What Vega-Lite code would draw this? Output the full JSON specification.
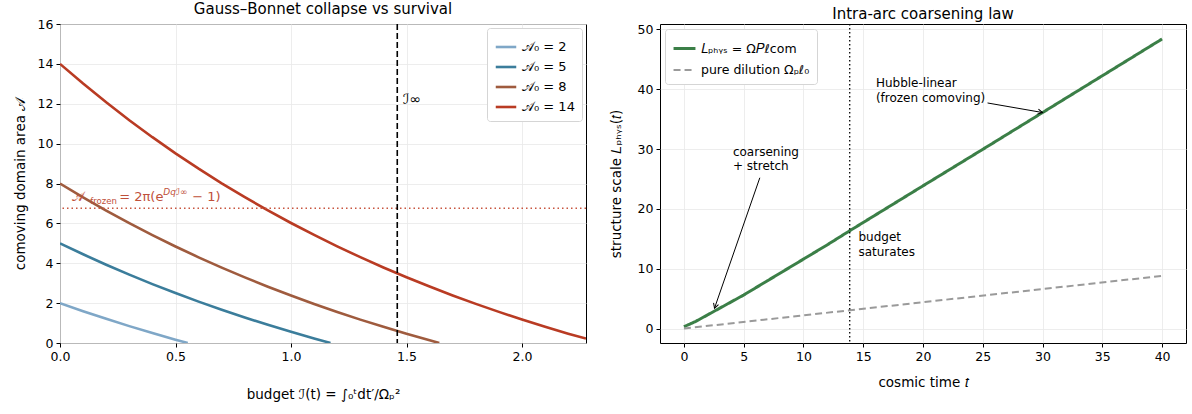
{
  "$schema": "https://vega.github.io/schema/vega-lite/v6.json",
  "background": "white",
  "padding": {"left": 12, "top": 1, "right": 4, "bottom": 5},
  "spacing": 20,
  "resolve": {
    "scale": {"color": "independent", "strokeDash": "independent", "strokeWidth": "independent", "x": "independent", "y": "independent"},
    "legend": {"color": "independent", "strokeDash": "independent"}
  },
  "config": {
    "font": "DejaVu Sans",
    "view": {"stroke": "#000000", "strokeWidth": 1},
    "axis": {
      "domain": false, "grid": true, "gridColor": "#e8e8e8", "gridWidth": 0.8,
      "tickColor": "#000000", "tickSize": 4, "labelFontSize": 12.5, "labelColor": "#000000",
      "titleFontSize": 13.5, "titleFontWeight": "normal", "titleColor": "#000000", "labelPadding": 3,
      "labelFlush": false, "labelOverlap": false
    },
    "title": {"fontSize": 15, "fontWeight": "normal", "offset": 1, "color": "#000000"},
    "legend": {"labelFontSize": 12.5, "labelColor": "#000000"}
  },
  "datasets": {
    "left": [
      {"I": 0.0, "A": 2.0, "s": "𝒜₀ = 2"}, {"I": 0.1, "A": 1.596, "s": "𝒜₀ = 2"}, {"I": 0.2, "A": 1.212, "s": "𝒜₀ = 2"},
      {"I": 0.3, "A": 0.846, "s": "𝒜₀ = 2"}, {"I": 0.4, "A": 0.499, "s": "𝒜₀ = 2"}, {"I": 0.5, "A": 0.168, "s": "𝒜₀ = 2"},
      {"I": 0.553, "A": 0.0, "s": "𝒜₀ = 2"},
      {"I": 0.0, "A": 5.0, "s": "𝒜₀ = 5"}, {"I": 0.1, "A": 4.45, "s": "𝒜₀ = 5"}, {"I": 0.2, "A": 3.926, "s": "𝒜₀ = 5"},
      {"I": 0.3, "A": 3.428, "s": "𝒜₀ = 5"}, {"I": 0.4, "A": 2.955, "s": "𝒜₀ = 5"}, {"I": 0.5, "A": 2.504, "s": "𝒜₀ = 5"},
      {"I": 0.6, "A": 2.076, "s": "𝒜₀ = 5"}, {"I": 0.7, "A": 1.668, "s": "𝒜₀ = 5"}, {"I": 0.8, "A": 1.28, "s": "𝒜₀ = 5"},
      {"I": 0.9, "A": 0.911, "s": "𝒜₀ = 5"}, {"I": 1.0, "A": 0.56, "s": "𝒜₀ = 5"}, {"I": 1.1, "A": 0.227, "s": "𝒜₀ = 5"},
      {"I": 1.171, "A": 0.0, "s": "𝒜₀ = 5"},
      {"I": 0.0, "A": 8.0, "s": "𝒜₀ = 8"}, {"I": 0.1, "A": 7.303, "s": "𝒜₀ = 8"}, {"I": 0.2, "A": 6.641, "s": "𝒜₀ = 8"},
      {"I": 0.3, "A": 6.01, "s": "𝒜₀ = 8"}, {"I": 0.4, "A": 5.411, "s": "𝒜₀ = 8"}, {"I": 0.5, "A": 4.841, "s": "𝒜₀ = 8"},
      {"I": 0.6, "A": 4.298, "s": "𝒜₀ = 8"}, {"I": 0.7, "A": 3.782, "s": "𝒜₀ = 8"}, {"I": 0.8, "A": 3.291, "s": "𝒜₀ = 8"},
      {"I": 0.9, "A": 2.824, "s": "𝒜₀ = 8"}, {"I": 1.0, "A": 2.38, "s": "𝒜₀ = 8"}, {"I": 1.1, "A": 1.958, "s": "𝒜₀ = 8"},
      {"I": 1.2, "A": 1.556, "s": "𝒜₀ = 8"}, {"I": 1.3, "A": 1.173, "s": "𝒜₀ = 8"}, {"I": 1.4, "A": 0.81, "s": "𝒜₀ = 8"},
      {"I": 1.5, "A": 0.464, "s": "𝒜₀ = 8"}, {"I": 1.6, "A": 0.135, "s": "𝒜₀ = 8"}, {"I": 1.642, "A": 0.0, "s": "𝒜₀ = 8"},
      {"I": 0.0, "A": 14.0, "s": "𝒜₀ = 14"}, {"I": 0.1, "A": 13.011, "s": "𝒜₀ = 14"}, {"I": 0.2, "A": 12.07, "s": "𝒜₀ = 14"},
      {"I": 0.3, "A": 11.175, "s": "𝒜₀ = 14"}, {"I": 0.4, "A": 10.323, "s": "𝒜₀ = 14"}, {"I": 0.5, "A": 9.513, "s": "𝒜₀ = 14"},
      {"I": 0.6, "A": 8.743, "s": "𝒜₀ = 14"}, {"I": 0.7, "A": 8.01, "s": "𝒜₀ = 14"}, {"I": 0.8, "A": 7.313, "s": "𝒜₀ = 14"},
      {"I": 0.9, "A": 6.65, "s": "𝒜₀ = 14"}, {"I": 1.0, "A": 6.019, "s": "𝒜₀ = 14"}, {"I": 1.1, "A": 5.419, "s": "𝒜₀ = 14"},
      {"I": 1.2, "A": 4.848, "s": "𝒜₀ = 14"}, {"I": 1.3, "A": 4.306, "s": "𝒜₀ = 14"}, {"I": 1.4, "A": 3.789, "s": "𝒜₀ = 14"},
      {"I": 1.5, "A": 3.298, "s": "𝒜₀ = 14"}, {"I": 1.6, "A": 2.831, "s": "𝒜₀ = 14"}, {"I": 1.7, "A": 2.386, "s": "𝒜₀ = 14"},
      {"I": 1.8, "A": 1.963, "s": "𝒜₀ = 14"}, {"I": 1.9, "A": 1.561, "s": "𝒜₀ = 14"}, {"I": 2.0, "A": 1.179, "s": "𝒜₀ = 14"},
      {"I": 2.1, "A": 0.815, "s": "𝒜₀ = 14"}, {"I": 2.2, "A": 0.469, "s": "𝒜₀ = 14"}, {"I": 2.277, "A": 0.22, "s": "𝒜₀ = 14"}
    ],
    "right": [
      {"t": 0, "L": 0.3, "s": "𝐿ₚₕᵧₛ = Ω𝑃ℓcom"}, {"t": 1, "L": 1.2, "s": "𝐿ₚₕᵧₛ = Ω𝑃ℓcom"}, {"t": 2, "L": 2.3, "s": "𝐿ₚₕᵧₛ = Ω𝑃ℓcom"},
      {"t": 3, "L": 3.4, "s": "𝐿ₚₕᵧₛ = Ω𝑃ℓcom"}, {"t": 4, "L": 4.5, "s": "𝐿ₚₕᵧₛ = Ω𝑃ℓcom"}, {"t": 5, "L": 5.6, "s": "𝐿ₚₕᵧₛ = Ω𝑃ℓcom"},
      {"t": 6, "L": 6.8, "s": "𝐿ₚₕᵧₛ = Ω𝑃ℓcom"}, {"t": 7, "L": 8.0, "s": "𝐿ₚₕᵧₛ = Ω𝑃ℓcom"}, {"t": 8, "L": 9.2, "s": "𝐿ₚₕᵧₛ = Ω𝑃ℓcom"},
      {"t": 9, "L": 10.4, "s": "𝐿ₚₕᵧₛ = Ω𝑃ℓcom"}, {"t": 10, "L": 11.6, "s": "𝐿ₚₕᵧₛ = Ω𝑃ℓcom"}, {"t": 11, "L": 12.8, "s": "𝐿ₚₕᵧₛ = Ω𝑃ℓcom"},
      {"t": 12, "L": 14.0, "s": "𝐿ₚₕᵧₛ = Ω𝑃ℓcom"}, {"t": 13, "L": 15.25, "s": "𝐿ₚₕᵧₛ = Ω𝑃ℓcom"}, {"t": 14, "L": 16.5, "s": "𝐿ₚₕᵧₛ = Ω𝑃ℓcom"},
      {"t": 16, "L": 18.95, "s": "𝐿ₚₕᵧₛ = Ω𝑃ℓcom"}, {"t": 18, "L": 21.4, "s": "𝐿ₚₕᵧₛ = Ω𝑃ℓcom"}, {"t": 20, "L": 23.85, "s": "𝐿ₚₕᵧₛ = Ω𝑃ℓcom"},
      {"t": 25, "L": 29.95, "s": "𝐿ₚₕᵧₛ = Ω𝑃ℓcom"}, {"t": 30, "L": 36.1, "s": "𝐿ₚₕᵧₛ = Ω𝑃ℓcom"}, {"t": 35, "L": 42.25, "s": "𝐿ₚₕᵧₛ = Ω𝑃ℓcom"},
      {"t": 40, "L": 48.4, "s": "𝐿ₚₕᵧₛ = Ω𝑃ℓcom"},
      {"t": 0, "L": 0.0, "s": "pure dilution Ωₚℓ₀"}, {"t": 10, "L": 2.2, "s": "pure dilution Ωₚℓ₀"}, {"t": 20, "L": 4.4, "s": "pure dilution Ωₚℓ₀"},
      {"t": 30, "L": 6.6, "s": "pure dilution Ωₚℓ₀"}, {"t": 40, "L": 8.8, "s": "pure dilution Ωₚℓ₀"}
    ]
  },
  "hconcat": [
    {
      "width": 526, "height": 319,
      "title": {"text": "Gauss–Bonnet collapse vs survival"},
      "layer": [
        {
          "data": {"name": "left"},
          "mark": {"type": "line", "strokeWidth": 2.6, "clip": true},
          "encoding": {
            "x": {"field": "I", "type": "quantitative", "scale": {"domain": [0, 2.277], "nice": false, "zero": false},
                  "axis": {"values": [0, 0.5, 1, 1.5, 2], "format": ".1f", "title": "budget ℐ(t) = ∫₀ᵗdt′/Ωₚ²", "titlePadding": 25}},
            "y": {"field": "A", "type": "quantitative", "scale": {"domain": [0, 16], "nice": false},
                  "axis": {"values": [0, 2, 4, 6, 8, 10, 12, 14, 16], "title": "comoving domain area 𝒜", "titlePadding": 10}},
            "color": {"field": "s", "type": "nominal",
                      "scale": {"domain": ["𝒜₀ = 2", "𝒜₀ = 5", "𝒜₀ = 8", "𝒜₀ = 14"], "range": ["#7fa7c7", "#3b7d9b", "#9f5b3e", "#b93b23"]},
                      "legend": {"title": null, "orient": "top-right", "offset": 4, "symbolType": "stroke", "symbolSize": 420,
                                 "symbolStrokeWidth": 2.6, "rowPadding": 1, "padding": 7, "strokeColor": "#d5d5d5",
                                 "fillColor": "white", "cornerRadius": 3, "labelFontSize": 13}}
          }
        },
        {
          "data": {"values": [{"A": 6.755}]},
          "mark": {"type": "rule", "color": "#c8553f", "strokeWidth": 1.6, "strokeDash": [1.5, 3]},
          "encoding": {"y": {"field": "A", "type": "quantitative", "axis": {"values": [0, 2, 4, 6, 8, 10, 12, 14, 16], "title": "comoving domain area 𝒜", "titlePadding": 10}}}
        },
        {
          "data": {"values": [{"I": 1.46}]},
          "mark": {"type": "rule", "color": "#000000", "strokeWidth": 1.6, "strokeDash": [6, 3]},
          "encoding": {"x": {"field": "I", "type": "quantitative", "axis": {"values": [0, 0.5, 1, 1.5, 2], "format": ".1f", "title": "budget ℐ(t) = ∫₀ᵗdt′/Ωₚ²", "titlePadding": 25}}}
        },
        {
          "data": {"values": [{"I": 1.485, "A": 12.2, "label": "ℐ∞"}]},
          "mark": {"type": "text", "align": "left", "baseline": "middle", "fontSize": 14, "color": "#000000"},
          "encoding": {
            "x": {"field": "I", "type": "quantitative", "axis": {"values": [0, 0.5, 1, 1.5, 2], "format": ".1f", "title": "budget ℐ(t) = ∫₀ᵗdt′/Ωₚ²", "titlePadding": 25}},
            "y": {"field": "A", "type": "quantitative", "axis": {"values": [0, 2, 4, 6, 8, 10, 12, 14, 16], "title": "comoving domain area 𝒜", "titlePadding": 10}},
            "text": {"field": "label"}}
        },
        {
          "data": {"values": [{"I": 0.053, "A": 7.12}]},
          "encoding": {
            "x": {"field": "I", "type": "quantitative", "axis": {"values": [0, 0.5, 1, 1.5, 2], "format": ".1f", "title": "budget ℐ(t) = ∫₀ᵗdt′/Ωₚ²", "titlePadding": 25}},
            "y": {"field": "A", "type": "quantitative", "axis": {"values": [0, 2, 4, 6, 8, 10, 12, 14, 16], "title": "comoving domain area 𝒜", "titlePadding": 10}}
          },
          "layer": [
            {"mark": {"type": "text", "text": "𝒜", "align": "left", "baseline": "alphabetic", "fontSize": 13, "color": "#c0503a"}},
            {"mark": {"type": "text", "text": "frozen", "align": "left", "baseline": "alphabetic", "fontSize": 8.5, "dx": 18, "dy": 3, "color": "#c0503a"}},
            {"mark": {"type": "text", "text": "= 2π(e", "align": "left", "baseline": "alphabetic", "fontSize": 13, "dx": 47, "color": "#c0503a"}},
            {"mark": {"type": "text", "text": "Dqℐ∞", "align": "left", "baseline": "alphabetic", "fontSize": 9, "fontStyle": "italic", "dx": 91, "dy": -6, "color": "#c0503a"}},
            {"mark": {"type": "text", "text": "− 1)", "align": "left", "baseline": "alphabetic", "fontSize": 13, "dx": 120, "color": "#c0503a"}}
          ]
        }
      ]
    },
    {
      "width": 526, "height": 319,
      "title": {"text": "Intra-arc coarsening law"},
      "layer": [
        {
          "data": {"name": "right"},
          "mark": {"type": "line", "clip": true},
          "encoding": {
            "x": {"field": "t", "type": "quantitative", "scale": {"domain": [-2, 42], "nice": false, "zero": false},
                  "axis": {"values": [0, 5, 10, 15, 20, 25, 30, 35, 40], "title": "cosmic time 𝑡", "titlePadding": 13}},
            "y": {"field": "L", "type": "quantitative", "scale": {"domain": [-2.42, 50.9], "nice": false, "zero": false},
                  "axis": {"values": [0, 10, 20, 30, 40, 50], "title": "structure scale 𝐿ₚₕᵧₛ(𝑡)", "titlePadding": 14}},
            "color": {"field": "s", "type": "nominal",
                      "scale": {"domain": ["𝐿ₚₕᵧₛ = Ω𝑃ℓcom", "pure dilution Ωₚℓ₀"], "range": ["#3b7f47", "#9a9a9a"]},
                      "legend": {"title": null, "orient": "top-left", "offset": 5, "symbolType": "stroke", "symbolSize": 480,
                                 "symbolStrokeWidth": 2.6, "rowPadding": 3, "padding": 7, "strokeColor": "#d5d5d5",
                                 "fillColor": "white", "cornerRadius": 3, "labelFontSize": 12.5}},
            "strokeDash": {"field": "s", "type": "nominal",
                           "scale": {"domain": ["𝐿ₚₕᵧₛ = Ω𝑃ℓcom", "pure dilution Ωₚℓ₀"], "range": [[1, 0], [7, 4]]},
                           "legend": {"title": null, "orient": "top-left", "offset": 5, "symbolType": "stroke", "symbolSize": 480,
                                 "symbolStrokeWidth": 2.6, "rowPadding": 3, "padding": 7, "strokeColor": "#d5d5d5",
                                 "fillColor": "white", "cornerRadius": 3, "labelFontSize": 12.5}},
            "strokeWidth": {"field": "s", "type": "nominal",
                           "scale": {"domain": ["𝐿ₚₕᵧₛ = Ω𝑃ℓcom", "pure dilution Ωₚℓ₀"], "range": [3, 2]}, "legend": null}
          }
        },
        {
          "data": {"values": [{"t": 13.87}]},
          "mark": {"type": "rule", "color": "#000000", "strokeWidth": 1.3, "strokeDash": [1.5, 2.5]},
          "encoding": {"x": {"field": "t", "type": "quantitative"}}
        },
        {
          "data": {"values": [{"t": 6.35, "L": 25.2, "t2": 2.56, "L2": 3.4}]},
          "layer": [
            {"mark": {"type": "rule", "color": "#000000", "strokeWidth": 1},
             "encoding": {"x": {"field": "t", "type": "quantitative"}, "y": {"field": "L", "type": "quantitative"},
                          "x2": {"field": "t2"}, "y2": {"field": "L2"}}},
            {"mark": {"type": "point", "shape": "M -0.55 -1 L 0 0 L 0.55 -1", "filled": false, "size": 90, "angle": 18.7, "stroke": "#000000", "strokeWidth": 1, "opacity": 1},
             "encoding": {"x": {"field": "t2", "type": "quantitative"}, "y": {"field": "L2", "type": "quantitative"}}}
          ]
        },
        {
          "data": {"values": [{"t": 25.4, "L": 37.7, "t2": 30.0, "L2": 36.1}]},
          "layer": [
            {"mark": {"type": "rule", "color": "#000000", "strokeWidth": 1},
             "encoding": {"x": {"field": "t", "type": "quantitative"}, "y": {"field": "L", "type": "quantitative"},
                          "x2": {"field": "t2"}, "y2": {"field": "L2"}}},
            {"mark": {"type": "point", "shape": "M -0.55 -1 L 0 0 L 0.55 -1", "filled": false, "size": 90, "angle": 281.7, "stroke": "#000000", "strokeWidth": 1, "opacity": 1},
             "encoding": {"x": {"field": "t2", "type": "quantitative"}, "y": {"field": "L2", "type": "quantitative"}}}
          ]
        },
        {
          "data": {"values": [
            {"t": 4.1, "L": 30.4, "label": ["coarsening", "+ stretch"]},
            {"t": 16.06, "L": 41.8, "label": ["Hubble-linear", "(frozen comoving)"]},
            {"t": 14.6, "L": 16.06, "label": ["budget", "saturates"]}
          ]},
          "mark": {"type": "text", "align": "left", "baseline": "top", "fontSize": 12, "lineHeight": 14.5, "color": "#000000"},
          "encoding": {"x": {"field": "t", "type": "quantitative"}, "y": {"field": "L", "type": "quantitative"}, "text": {"field": "label"}}
        }
      ]
    }
  ]
}
